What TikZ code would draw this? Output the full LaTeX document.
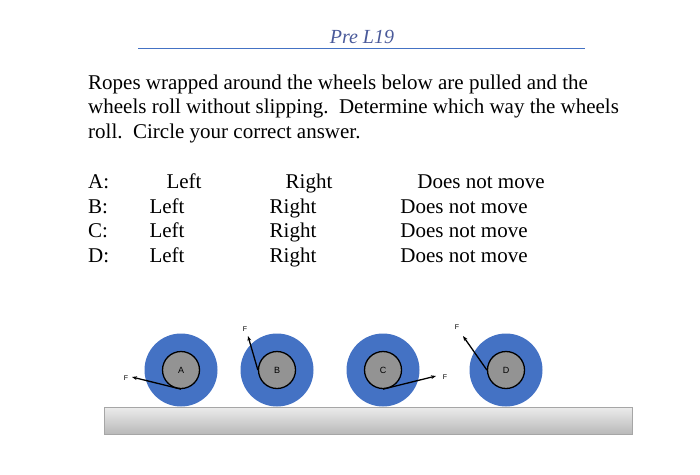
\documentclass[tikz,border=0pt]{standalone}
\usepackage{fontspec}
\usetikzlibrary{arrows.meta}
\setmainfont{Liberation Serif}
\setsansfont{Liberation Sans}
\definecolor{wblue}{HTML}{4472C4}
\definecolor{tblue}{HTML}{4A5A9A}
\begin{document}
\begin{tikzpicture}[x=1pt,y=-1pt,
  txt/.style={font=\fontsize{21}{24}\selectfont,inner sep=0pt,anchor=base west},
  col/.style={font=\fontsize{21}{24}\selectfont,inner sep=0pt,anchor=base},
  outer/.style={circle,fill=wblue,minimum size=73pt,inner sep=0pt},
  innerw/.style={circle,fill=gray!85,draw=black,line width=1.3pt,minimum size=37pt,inner sep=0pt,font=\sffamily\small},
  rope/.style={line width=1.3pt,-{Stealth[length=5pt]}},
  flab/.style={font=\sffamily\scriptsize,inner sep=0pt}]
\useasboundingbox (0,0) rectangle (700,474);
\node[font=\fontsize{20}{22}\selectfont\itshape,text=tblue] (title) at (362,37) {Pre L19};
\draw[wblue,line width=0.8pt] (138,48) -- (585,48);
\node[txt] (p1) at (88,89) {Ropes wrapped around the wheels below are pulled and the};
\node[txt] (p2) at (88,113) {wheels roll without slipping.\ \ Determine which way the wheels};
\node[txt] (p3) at (88,138) {roll.\ \ Circle your correct answer.};
\foreach \r/\y in {A/188,B/213,C/237,D/262}{ \node[txt] (l\r) at (88,\y) {\r:}; }
\node[col] (la) at (184,188) {Left};
\node[col] (ra) at (309,188) {Right};
\node[col] (da) at (481,188) {Does not move};
\foreach \r/\y in {B/213,C/237,D/262}{
  \node[col] (lt\r) at (167,\y) {Left};
  \node[col] (rt\r) at (293,\y) {Right};
  \node[col] (dn\r) at (464,\y) {Does not move};}
\shade[top color=gray!15,bottom color=gray!55,draw=gray!70] (104,407) rectangle (632,434);
\node[outer] (oA) at (181,370) {};
\node[outer] (oB) at (277,370) {};
\node[outer] (oC) at (383,370) {};
\node[outer] (oD) at (506,370) {};
\node[innerw] (A) at (181,370) {A};
\node[innerw] (B) at (277,370) {B};
\node[innerw] (C) at (383,370) {C};
\node[innerw] (D) at (506,370) {D};
\coordinate (fA) at (132,377);
\coordinate (fB) at (248,336);
\coordinate (fC) at (436,376);
\coordinate (fD) at (463,336);
\draw[rope] (A.south) -- (fA);
\draw[rope] (B.west) -- (fB);
\draw[rope] (C.south) -- (fC);
\draw[rope] (D.west) -- (fD);
\node[flab] at (126,378) {F};
\node[flab] at (245,329) {F};
\node[flab] at (445,377) {F};
\node[flab] at (457,327) {F};
\end{tikzpicture}
\end{document}
